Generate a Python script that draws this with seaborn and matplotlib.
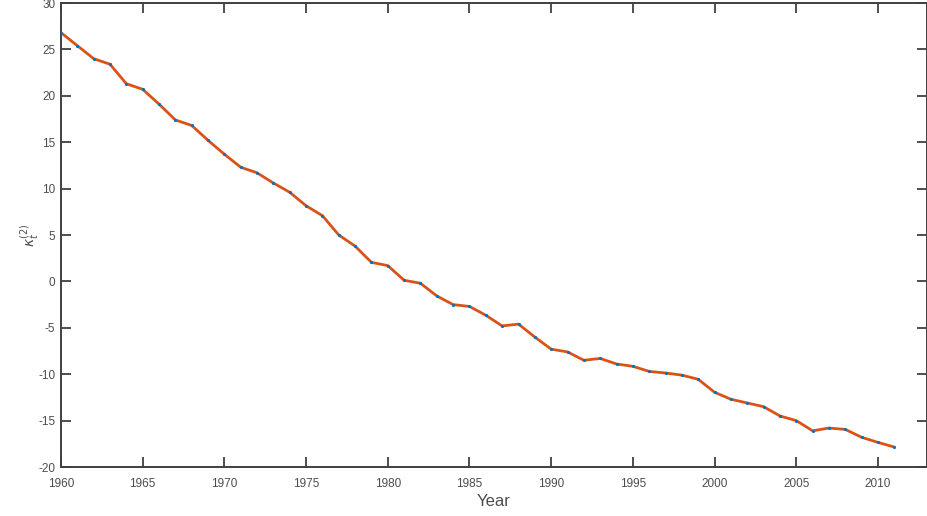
import matplotlib
matplotlib.use("Agg")
import matplotlib.pyplot as plt
import seaborn as sns
import pandas as pd

years = list(range(1960, 2012))
kappa2 = [26.8, 25.4, 24.0, 23.4, 21.3, 20.7, 19.1, 17.4, 16.8, 15.2,
          13.7, 12.3, 11.7, 10.6, 9.6, 8.15, 7.08, 5.0, 3.8, 2.05,
          1.7, 0.12, -0.2, -1.57, -2.5, -2.7, -3.65, -4.8, -4.6, -6.0,
          -7.3, -7.6, -8.5, -8.3, -8.9, -9.15, -9.7, -9.87, -10.1, -10.55,
          -11.95, -12.7, -13.1, -13.5, -14.5, -15.0, -16.1, -15.8, -15.95, -16.8,
          -17.35, -17.85]
xticks = list(range(1960, 2011, 5))
yticks = list(range(-20, 31, 5))

df = pd.DataFrame({"Year": years, "kappa": kappa2})

sns.set_style("white")
plt.rcParams['font.family'] = ['Liberation Sans', 'DejaVu Sans']

fig = plt.figure(figsize=(9.28, 5.16), dpi=100)
ax = fig.add_axes([61/928, 49/516, 866/928, 464/516])

sns.lineplot(data=df, x="Year", y="kappa", ax=ax, color="#D95319", linewidth=2.0)
sns.scatterplot(data=df, x="Year", y="kappa", ax=ax, color="#0072BD", s=5,
                linewidth=0, zorder=3)

ax.set_xlim(1960, 2013)
ax.set_ylim(-20, 30)
ax.set_xticks(xticks)
ax.set_yticks(yticks)
ax.set_xticklabels([str(v) for v in xticks])
ax.set_yticklabels([str(v) for v in yticks])

axcol = "#404040"
for s in ax.spines.values():
    s.set_visible(True)
    s.set_color(axcol)
    s.set_linewidth(1.4)
ax.tick_params(direction="in", length=7, width=1.3, color=axcol,
               labelcolor="#4d4d4d", labelsize=8.5,
               top=True, right=True, bottom=True, left=True)
ax.tick_params(axis="x", pad=8)
ax.tick_params(axis="y", pad=4)

ax.set_xlabel("Year", fontsize=12, color="#4d4d4d", labelpad=3)
ax.set_ylabel(r"$\kappa_t^{(2)}$", fontsize=10, color="#4d4d4d", labelpad=-2)

fig.savefig("out.png", dpi=100)
